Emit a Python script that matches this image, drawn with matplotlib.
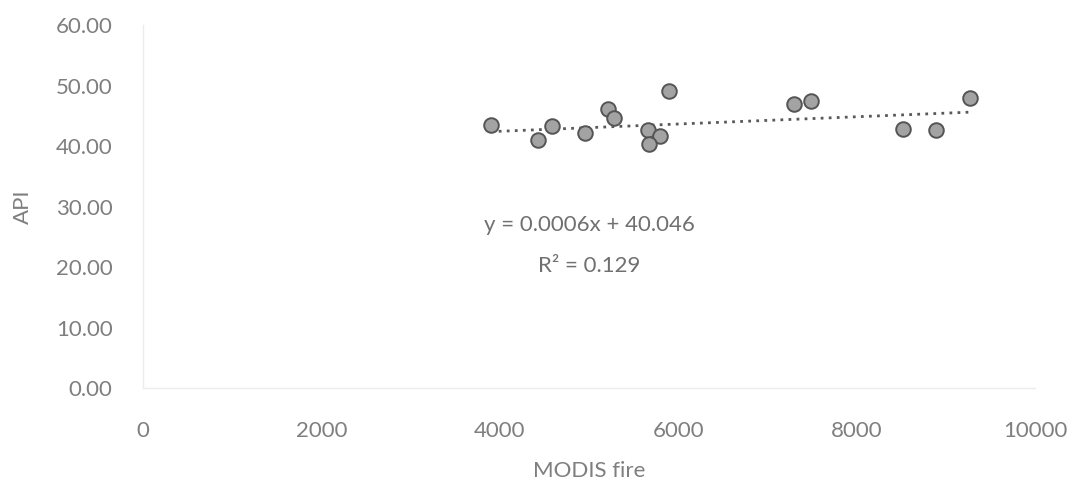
import matplotlib
matplotlib.use("Agg")
import matplotlib.pyplot as plt
import numpy as np

# MODIS fire counts vs. API
modis_fire = [3898, 4425, 4589, 4959, 5210, 5280, 5665, 5796, 5669, 5893,
              7302, 7489, 8524, 8887, 9271]
api = [43.5, 41.0, 43.3, 42.1, 46.2, 44.6, 42.6, 41.7, 40.4, 49.1,
       46.9, 47.4, 42.8, 42.7, 48.0]

slope = 0.0006
intercept = 40.046
r_squared = 0.129

x_ticks = [0, 2000, 4000, 6000, 8000, 10000]
y_ticks = [0, 10, 20, 30, 40, 50, 60]

plt.rcParams['font.family'] = ['Lato', 'DejaVu Sans']
text_gray = '#7f7f7f'

fig = plt.figure(figsize=(10.81, 4.83), dpi=100)
ax = fig.add_axes([0.1323, 0.1967, 0.8251, 0.7513])

ax.plot(modis_fire, api, linestyle='none', marker='o', markersize=10.5,
        markerfacecolor='#a3a3a3', markeredgecolor='#555555',
        markeredgewidth=1.4, zorder=3)

# Linear trendline across the data range
xs = np.array([min(modis_fire), max(modis_fire)])
ax.plot(xs, slope * xs + intercept, color='#595959', linewidth=2.0,
        linestyle=(0, (1, 1.9)), zorder=2)

ax.text(5000, 27.0, f'y = {slope}x + {intercept}', ha='center', va='center',
        fontsize=16, color='#707070')
ax.text(5000, 20.2, f'R² = {r_squared}', ha='center', va='center',
        fontsize=16, color='#707070')

ax.set_xlim(0, 10000)
ax.set_ylim(0, 60)
ax.set_xticks(x_ticks)
ax.set_yticks(y_ticks)
ax.set_xticklabels([str(v) for v in x_ticks])
ax.set_yticklabels([f'{v:.2f}' for v in y_ticks])
ax.tick_params(axis='both', length=0, labelsize=16, labelcolor=text_gray)
ax.tick_params(axis='y', pad=22)
ax.tick_params(axis='x', pad=24)

for side in ('top', 'right'):
    ax.spines[side].set_visible(False)
for side in ('left', 'bottom'):
    ax.spines[side].set_color('#ececec')
    ax.spines[side].set_linewidth(1.0)

ax.set_xlabel('MODIS fire', fontsize=16, color=text_gray, labelpad=14)
ax.set_ylabel('API', fontsize=16, color=text_gray, labelpad=16)

fig.savefig('out.png', dpi=100, facecolor='white')
